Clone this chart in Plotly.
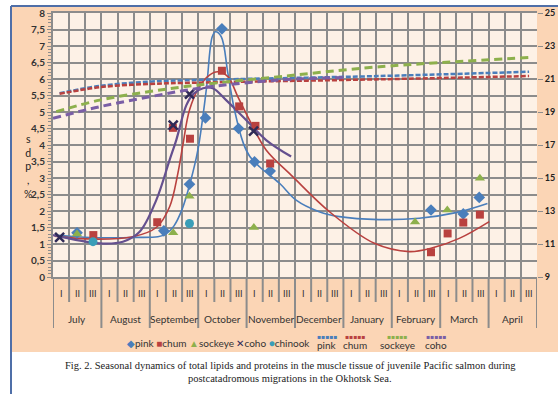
import plotly.graph_objects as go

# ---- categories (10-day periods, "decades") ----
months = ["July", "August", "September", "October", "November",
          "December", "January", "February", "March", "April"]
decades = ["I", "II", "III"]

# ---- lipids, % (left axis); x = position in decades from start of July ----
pink_x = [1.49, 6.87, 8.46, 9.45, 10.47, 11.5, 12.49, 13.46, 23.43, 25.43, 26.42]
pink_y = [1.34, 1.40, 2.81, 4.82, 7.52, 4.50, 3.49, 3.21, 2.03, 1.91, 2.41]

chum_x = [2.5, 6.46, 7.43, 8.49, 10.47, 11.54, 12.55, 13.46, 23.43, 24.46, 25.43, 26.46]
chum_y = [1.27, 1.66, 4.52, 4.19, 6.25, 5.17, 4.58, 3.44, 0.75, 1.32, 1.65, 1.89]

sockeye_x = [1.49, 7.45, 8.46, 12.45, 22.44, 24.44, 26.46]
sockeye_y = [1.30, 1.34, 2.45, 1.50, 1.67, 2.03, 2.99]

coho_x = [0.41, 7.45, 8.46, 12.43]
coho_y = [1.20, 4.60, 5.54, 4.42]

chinook_x = [2.48, 8.46]
chinook_y = [1.07, 1.62]

# ---- smoothed lipid curves ----
pink_fit_x = [0.1, 1.5, 3.0, 5.0, 6.5, 7.0, 7.5, 8.0, 8.5, 8.98, 9.5, 9.87, 10.07,
              10.43, 10.84, 11.25, 11.8, 12.2, 12.8, 14.04, 15.07, 16.5, 17.75,
              20.2, 22.7, 24.98, 26.93]
pink_fit_y = [1.27, 1.22, 1.19, 1.20, 1.22, 1.30, 1.55, 2.05, 2.85, 3.85, 5.67, 7.28,
              7.43, 7.28, 6.17, 5.06, 4.05, 3.65, 3.34, 2.84, 2.33, 1.98, 1.83,
              1.74, 1.78, 1.95, 2.23]

chum_fit_x = [0.1, 2.48, 4.95, 6.4, 7.23, 7.74, 8.05, 8.46, 9.08, 9.7, 10.22, 10.84,
              11.46, 12.28, 13.21, 14.86, 17.13, 19.92, 22.09, 23.43, 25.18, 27.04]
chum_fit_y = [1.24, 1.15, 1.22, 1.50, 2.13, 3.14, 4.00, 5.06, 5.77, 6.12, 6.22, 6.07,
              5.46, 4.66, 3.85, 3.04, 1.98, 1.02, 0.77, 0.87, 1.17, 1.68]

coho_fit_x = [0.0, 2.89, 4.33, 5.37, 6.4, 7.23, 7.64, 8.26, 8.7, 9.3, 9.9, 10.73,
              11.97, 13.21, 14.76]
coho_fit_y = [1.27, 1.02, 1.07, 1.37, 2.33, 3.55, 4.15, 5.20, 5.55, 5.72, 5.72, 5.36,
              4.76, 4.15, 3.65]

# ---- proteins, % (right axis) trend lines ----
pink_p_x = [0.41, 2.89, 5.99, 9.04, 20.23, 29.51]
pink_p_y = [20.14, 20.58, 20.84, 20.94, 21.18, 21.44]

chum_p_x = [0.41, 2.89, 5.99, 9.04, 20.23, 29.51]
chum_p_y = [20.10, 20.50, 20.70, 20.78, 20.98, 21.18]

sockeye_p_x = [0.2, 2.89, 5.99, 9.04, 14.04, 20.23, 29.51]
sockeye_p_y = [19.02, 19.72, 20.24, 20.64, 21.14, 21.74, 22.30]

coho_p_x = [0.0, 2.89, 5.99, 9.04, 14.04, 18.2]
coho_p_y = [18.62, 19.32, 19.92, 20.44, 20.94, 21.10]

BLUE = "#4A7EBB"
RED = "#B9413F"
GREEN = "#8DB04C"
PURPLE_X = "#2F2A57"
PURPLE = "#65508F"
PURPLE_D = "#7A5EA6"
TEAL = "#3A9EB8"
GRID = "#8C8C8C"
PEACH = "#FBD5B5"
CREAM = "#FDF1E6"
FONT = "Lato"

# pixel helpers for page layout (plot area: x 53..537, y 13..277)
def px(x):
    return (x - 53) / 484

def py(y):
    return (277 - y) / 264

fig = go.Figure()

# fitted curves
fig.add_trace(go.Scatter(x=pink_fit_x, y=pink_fit_y, mode="lines", line=dict(color=BLUE, width=1.6, shape="spline"), showlegend=False, hoverinfo="skip"))
fig.add_trace(go.Scatter(x=chum_fit_x, y=chum_fit_y, mode="lines", line=dict(color=RED, width=1.6, shape="spline"), showlegend=False, hoverinfo="skip"))
fig.add_trace(go.Scatter(x=coho_fit_x, y=coho_fit_y, mode="lines", line=dict(color=PURPLE, width=2.2, shape="spline"), showlegend=False, hoverinfo="skip"))

# markers
fig.add_trace(go.Scatter(x=pink_x, y=pink_y, mode="markers", name="pink",
                         marker=dict(symbol="diamond", size=9, color=BLUE)))
fig.add_trace(go.Scatter(x=chum_x, y=chum_y, mode="markers", name="chum",
                         marker=dict(symbol="square", size=8, color=RED)))
fig.add_trace(go.Scatter(x=sockeye_x, y=sockeye_y, mode="markers", name="sockeye",
                         marker=dict(symbol="triangle-up", size=9, color=GREEN)))
fig.add_trace(go.Scatter(x=coho_x, y=coho_y, mode="markers", name="coho",
                         marker=dict(symbol="x-thin-open", size=9, color=PURPLE_X,
                                     line=dict(width=2.5, color=PURPLE_X))))
fig.add_trace(go.Scatter(x=chinook_x, y=chinook_y, mode="markers", name="chinook",
                         marker=dict(symbol="circle", size=9, color=TEAL)))

# protein trend lines on right axis
fig.add_trace(go.Scatter(x=pink_p_x, y=pink_p_y, mode="lines", name="pink", yaxis="y2",
                         line=dict(color=BLUE, width=2.5, dash="5px,2px", shape="spline")))
fig.add_trace(go.Scatter(x=chum_p_x, y=chum_p_y, mode="lines", name="chum", yaxis="y2",
                         line=dict(color=RED, width=2.5, dash="5px,2px", shape="spline")))
fig.add_trace(go.Scatter(x=sockeye_p_x, y=sockeye_p_y, mode="lines", name="sockeye", yaxis="y2",
                         line=dict(color=GREEN, width=3, dash="8px,5px", shape="spline")))
fig.add_trace(go.Scatter(x=coho_p_x, y=coho_p_y, mode="lines", name="coho", yaxis="y2",
                         line=dict(color=PURPLE_D, width=3, dash="8px,5px", shape="spline")))

# backgrounds
shapes = [
    dict(type="rect", xref="paper", yref="paper", x0=px(12), x1=px(560), y0=py(352), y1=py(7),
         fillcolor=PEACH, line=dict(width=0), layer="below"),
    dict(type="rect", xref="paper", yref="paper", x0=0, x1=1, y0=0, y1=1,
         fillcolor=CREAM, line=dict(width=0), layer="below"),
    dict(type="line", xref="paper", yref="paper", x0=px(11), x1=px(11), y0=py(396), y1=py(6),
         line=dict(color="#4F6FA8", width=2)),
    dict(type="line", xref="paper", yref="paper", x0=px(11), x1=px(560), y0=py(6), y1=py(6),
         line=dict(color="#4F6FA8", width=2)),
]
# category dividers
for i in range(len(months) * 3 + 1):
    long = (i % 3 == 0)
    shapes.append(dict(type="line", xref="x", yref="paper", x0=i, x1=i,
                       y0=0, y1=py(328) if long else py(302),
                       line=dict(color=GRID, width=2)))

annotations = []
for m, name in enumerate(months):
    for d, dn in enumerate(decades):
        annotations.append(dict(x=m * 3 + d + 0.5, y=py(293), xref="x", yref="paper",
                                text=dn, showarrow=False, xanchor="center", yanchor="middle",
                                font=dict(family=FONT, size=9, color="#333333")))
    annotations.append(dict(x=m * 3 + 1.5, y=py(319), xref="x", yref="paper",
                            text=name, showarrow=False, xanchor="center", yanchor="middle",
                            font=dict(family=FONT, size=10, color="#333333")))

# stacked y-axis title (one text, letters stacked)
annotations.append(dict(x=px(28), y=py(167), xref="paper", yref="paper",
                        text="s<br>d<br>p<br>,<br>%", showarrow=False,
                        xanchor="center", yanchor="middle",
                        font=dict(family=FONT, size=10.5, color="#222222")))

# compact legend (Excel style)
marker_legend = [("◆", BLUE, "pink"), ("■", RED, "chum"), ("▲", GREEN, "sockeye"),
                 ("✕", PURPLE_X, "coho"), ("●", TEAL, "chinook")]
legend_text = " ".join(f'<span style="color:{c}">{s}</span>{n}' for s, c, n in marker_legend)
annotations.append(dict(x=px(218), y=py(343), xref="paper", yref="paper",
                        text=legend_text, showarrow=False, xanchor="center", yanchor="middle",
                        font=dict(family=FONT, size=10, color="#333333")))
line_legend = [(BLUE, "pink", 327), (RED, "chum", 355), (GREEN, "sockeye", 397),
               (PURPLE_D, "coho", 436)]
for col, name, xc in line_legend:
    annotations.append(dict(x=px(xc), y=py(336.5), xref="paper", yref="paper",
                            text="▪▪▪▪▪", showarrow=False, xanchor="center", yanchor="middle",
                            font=dict(family="DejaVu Sans", size=6, color=col)))
    annotations.append(dict(x=px(xc), y=py(345), xref="paper", yref="paper",
                            text=name, showarrow=False, xanchor="center", yanchor="middle",
                            font=dict(family=FONT, size=10, color="#333333")))

caption1 = ("Fig. 2. Seasonal dynamics of total lipids and proteins in the muscle tissue "
            "of juvenile Pacific salmon during")
caption2 = "postcatadromous migrations in the Okhotsk Sea."
annotations.append(dict(x=px(290), y=py(365), xref="paper", yref="paper",
                        text=caption1, showarrow=False, xanchor="center", yanchor="middle",
                        font=dict(family="Liberation Serif", size=10.5, color="#222222")))
annotations.append(dict(x=px(290), y=py(379), xref="paper", yref="paper",
                        text=caption2, showarrow=False, xanchor="center", yanchor="middle",
                        font=dict(family="Liberation Serif", size=10.5, color="#222222")))

fig.update_layout(
    width=558, height=394,
    margin=dict(l=53, r=21, t=13, b=117, autoexpand=False),
    paper_bgcolor="white",
    plot_bgcolor="rgba(0,0,0,0)",
    separators=", ",
    shapes=shapes,
    annotations=annotations,
    showlegend=False,
    xaxis=dict(range=[0, 30], dtick=1, tick0=0, showticklabels=False, ticks="",
               showgrid=True, gridcolor=GRID, gridwidth=2, zeroline=False, automargin=False,
               showline=True, mirror=True, linecolor=GRID, linewidth=2),
    yaxis=dict(range=[0, 8], dtick=0.5, tickformat=".1~f", showgrid=True, gridcolor=GRID,
               gridwidth=2, zeroline=False, showline=True, linecolor=GRID, linewidth=2,
               automargin=False,
               ticks="outside", ticklen=4, tickcolor=GRID, tickwidth=1,
               minor=dict(dtick=0.1, ticks="outside", ticklen=3, tickcolor=GRID, showgrid=False),
               tickfont=dict(family=FONT, size=10, color="#333333", weight="bold")),
    yaxis2=dict(range=[9, 25], dtick=2, tick0=9, overlaying="y", side="right", showgrid=False,
                zeroline=False, showline=False, ticks="outside", ticklen=5, tickcolor=GRID,
                automargin=False,
                tickfont=dict(family=FONT, size=9, color="#222222", weight="bold")),
)

fig.write_html("out.html", post_script="document.body.style.margin='0';",
               config={"displayModeBar": False})
